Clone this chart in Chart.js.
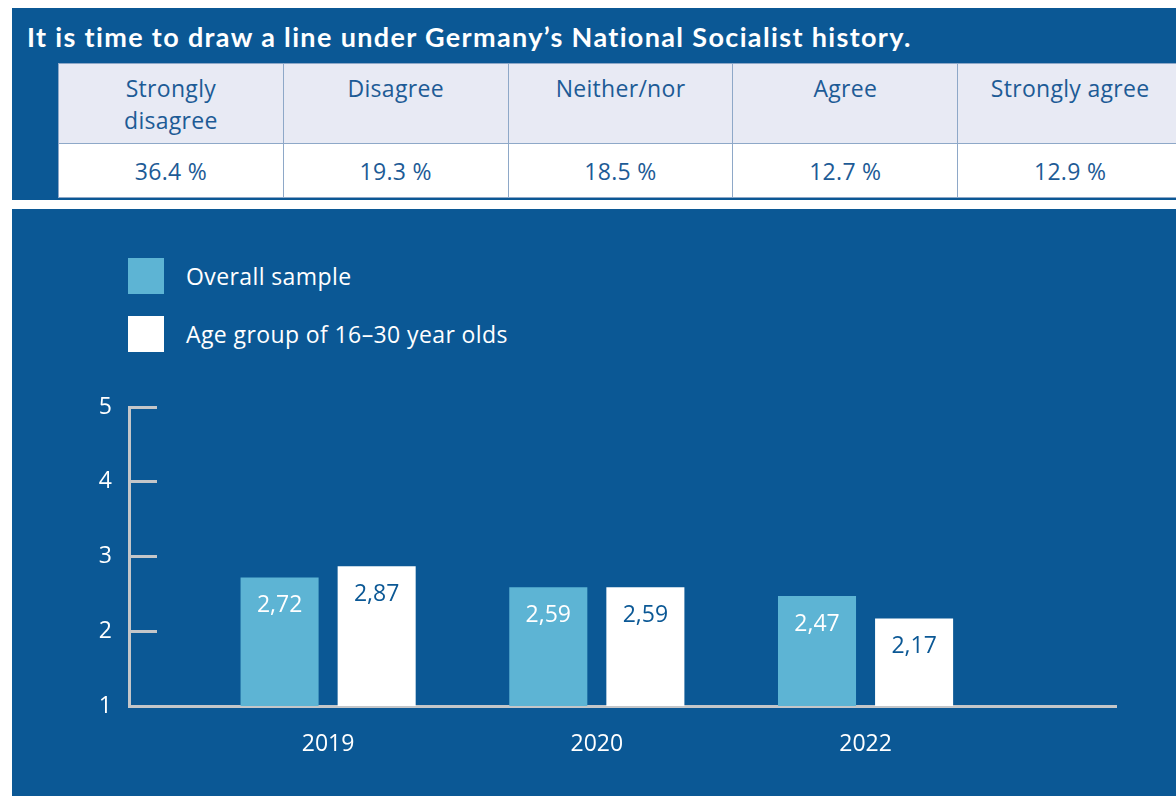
<!DOCTYPE html>
<html>
<head>
<meta charset="utf-8">
<script src="https://cdn.jsdelivr.net/npm/chart.js@4.4.0/dist/chart.umd.min.js"></script>
<style>
  html, body { margin: 0; padding: 0; width: 1176px; height: 796px; overflow: hidden; background: #fff; font-family: "Open Sans", sans-serif; }
  #top { position: absolute; left: 12px; top: 8px; width: 1164px; height: 192px; background: #0b5895; overflow: hidden; }
  #title { position: absolute; left: 15px; top: 13px; color: #fff; font-family: Lato, sans-serif; font-weight: 700; font-size: 27px; letter-spacing: 1.35px; line-height: 32px; white-space: nowrap; }
  #tbl { position: absolute; left: 46px; top: 55px; border-collapse: collapse; table-layout: fixed; width: 1125px; }
  #tbl td { border: 1px solid #8ea8c8; color: #1d5b96; font-size: 23px; letter-spacing: 0.3px; text-align: center; padding: 0 24px; }
  #tbl tr.head td { background: #e8eaf4; height: 80px; vertical-align: top; padding-top: 8px; line-height: 32px; box-sizing: border-box; }
  #tbl tr.vals td { background: #fff; height: 54px; vertical-align: middle; box-sizing: border-box; white-space: nowrap; }
  #panel { position: absolute; left: 12px; top: 209px; width: 1164px; height: 587px; background: #0b5895; }
  .leg { position: absolute; left: 116px; height: 36px; }
  .leg span.box { position: absolute; left: 0; top: 0; width: 36px; height: 36px; }
  .leg span.txt { position: absolute; left: 58px; top: 0; line-height: 36px; color: #fff; font-size: 23px; letter-spacing: 0.4px; white-space: nowrap; }
  #chart { position: absolute; left: 0; top: 0; }
</style>
</head>
<body>
<div id="top">
  <div id="title">It is time to draw a line under Germany’s National Socialist history.</div>
  <table id="tbl"><tr class="head" id="headRow"></tr><tr class="vals" id="valRow"></tr></table>
</div>
<div id="panel">
  <div id="legend"></div>
  <canvas id="chart" width="1164" height="587"></canvas>
</div>
<script>
// table data
const responses = ['Strongly disagree', 'Disagree', 'Neither/nor', 'Agree', 'Strongly agree'];
const shares = [36.4, 19.3, 18.5, 12.7, 12.9];

// chart data
const years = ['2019', '2020', '2022'];
const overallSample = [2.72, 2.59, 2.47];
const youngGroup = [2.87, 2.59, 2.17];
const seriesNames = ['Overall sample', 'Age group of 16–30 year olds'];
const yTicks = [1, 2, 3, 4, 5];

const barColors = ['#5db4d4', '#ffffff'];
const labelColors = ['#ffffff', '#0b5895'];
const chartFont = '"Open Sans"';

// Fill the table
const headRow = document.getElementById('headRow');
const valRow = document.getElementById('valRow');
responses.forEach((r, i) => {
    const th = document.createElement('td');
    th.textContent = r;
    headRow.appendChild(th);
    const td = document.createElement('td');
    td.textContent = shares[i].toFixed(1) + '\u00A0%';
    valRow.appendChild(td);
});

// Legend
const legend = document.getElementById('legend');
seriesNames.forEach((name, i) => {
    const item = document.createElement('div');
    item.className = 'leg';
    item.style.top = (49 + i * 58) + 'px';
    item.innerHTML = '<span class="box" style="background:' + barColors[i] + '"></span><span class="txt"></span>';
    item.querySelector('.txt').textContent = name;
    legend.appendChild(item);
});

// Value labels inside the bars
const barLabels = {
    id: 'barLabels',
    afterDatasetsDraw(chart) {
        const ctx = chart.ctx;
        ctx.save();
        ctx.font = '23px ' + chartFont;
        ctx.textAlign = 'center';
        ctx.textBaseline = 'middle';
        chart.data.datasets.forEach((ds, i) => {
            chart.getDatasetMeta(i).data.forEach((bar, j) => {
                ctx.fillStyle = labelColors[i];
                ctx.fillText(ds.data[j].y.toFixed(2).replace('.', ','), bar.x, bar.y + 28);
            });
        });
        ctx.restore();
    }
};

function draw() {
    const ctx = document.getElementById('chart').getContext('2d');
    new Chart(ctx, {
        type: 'bar',
        data: {
            datasets: [overallSample, youngGroup].map((vals, i) => ({
                label: seriesNames[i],
                data: vals.map((v, j) => ({ x: j, y: v })),
                backgroundColor: barColors[i],
                borderWidth: 0,
                categoryPercentage: 0.7225,
                barPercentage: 0.804
            }))
        },
        options: {
            responsive: false,
            animation: false,
            devicePixelRatio: 1,
            layout: { padding: { top: 198, right: 60, left: 0, bottom: 0 } },
            plugins: { legend: { display: false }, tooltip: { enabled: false } },
            scales: {
                x: {
                    type: 'linear',
                    offset: false,
                    min: -0.741,
                    max: 2.932,
                    afterBuildTicks: (scale) => { scale.ticks = years.map((y, i) => ({ value: i })); },
                    afterFit: (scale) => { scale.height = 90; },
                    grid: { display: false, drawTicks: false, offset: false },
                    border: { display: true, color: '#c4c6c9', width: 3 },
                    ticks: {
                        autoSkip: false,
                        maxRotation: 0,
                        padding: 25,
                        color: '#ffffff',
                        font: { family: chartFont, size: 23 },
                        callback: (v) => years[v]
                    }
                },
                y: {
                    min: 1,
                    max: 5,
                    afterBuildTicks: (scale) => { scale.ticks = yTicks.map(v => ({ value: v })); },
                    afterFit: (scale) => { scale.width = 117; },
                    grid: { drawOnChartArea: false, drawTicks: true, tickLength: -28, color: '#c4c6c9', lineWidth: 3 },
                    border: { display: true, color: '#c4c6c9', width: 3 },
                    ticks: {
                        padding: 45,
                        color: '#ffffff',
                        font: { family: chartFont, size: 23 }
                    }
                }
            }
        },
        plugins: [barLabels]
    });
}

if (document.fonts && document.fonts.load) {
    Promise.all([
        document.fonts.load('23px "Open Sans"'),
        document.fonts.load('bold 27px Lato')
    ]).then(draw, draw);
} else {
    draw();
}
</script>
</body>
</html>
